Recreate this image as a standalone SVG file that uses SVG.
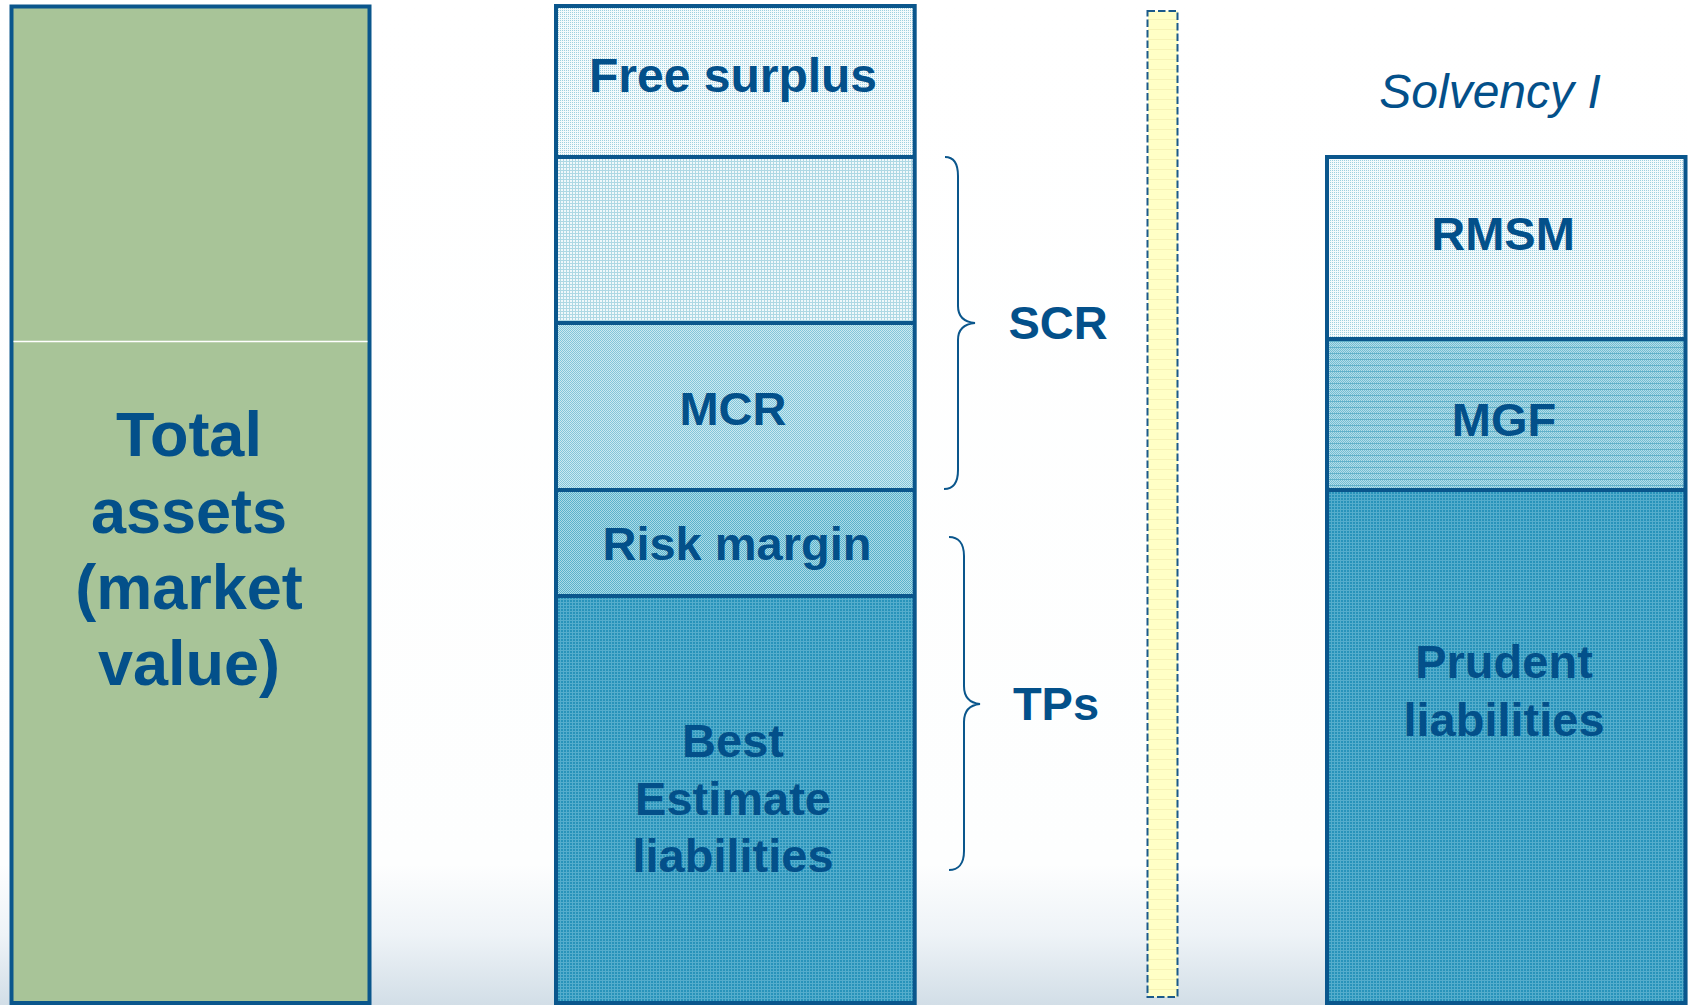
<svg xmlns="http://www.w3.org/2000/svg" width="1688" height="1005" viewBox="0 0 1688 1005">
  <defs>
    <linearGradient id="bg" x1="0" y1="0" x2="0" y2="1005" gradientUnits="userSpaceOnUse">
      <stop offset="0" stop-color="#ffffff"/>
      <stop offset="0.86" stop-color="#fdfefe"/>
      <stop offset="0.93" stop-color="#eef3f7"/>
      <stop offset="1" stop-color="#d2dee7"/>
    </linearGradient>
    <!-- fine dot texture: free surplus / RMSM -->
    <pattern id="pFree" width="2" height="2" patternUnits="userSpaceOnUse">
      <rect width="2" height="2" fill="#f4fafc"/>
      <rect x="0" y="0" width="1" height="1" fill="#9fd0de"/>
    </pattern>
    <!-- light grid: upper SCR band -->
    <pattern id="pGrid" width="3" height="3" patternUnits="userSpaceOnUse">
      <rect width="3" height="3" fill="#f0f8fb"/>
      <rect x="0" y="2" width="3" height="1" fill="#aed8e4"/>
      <rect x="2" y="0" width="1" height="3" fill="#aed8e4"/>
    </pattern>
    <!-- checker: MCR -->
    <pattern id="pMcr" width="2" height="2" patternUnits="userSpaceOnUse">
      <rect width="2" height="2" fill="#cbe9f1"/>
      <rect x="0" y="0" width="1" height="1" fill="#82c5d9"/>
      <rect x="1" y="1" width="1" height="1" fill="#82c5d9"/>
    </pattern>
    <!-- checker: risk margin -->
    <pattern id="pRisk" width="2" height="2" patternUnits="userSpaceOnUse">
      <rect width="2" height="2" fill="#acdae7"/>
      <rect x="0" y="0" width="1" height="1" fill="#5ab2cb"/>
      <rect x="1" y="1" width="1" height="1" fill="#5ab2cb"/>
    </pattern>
    <!-- dark grid: liabilities -->
    <pattern id="pLiab" width="3" height="3" patternUnits="userSpaceOnUse">
      <rect width="3" height="3" fill="#2893ba"/>
      <rect x="0" y="2" width="3" height="1" fill="#55adcc"/>
      <rect x="2" y="0" width="1" height="3" fill="#55adcc"/>
    </pattern>
    <!-- checker with rules: MGF -->
    <pattern id="pMgf" width="4" height="6" patternUnits="userSpaceOnUse">
      <rect width="4" height="6" fill="#b4dde9"/>
      <rect x="0" y="0" width="1" height="1" fill="#74bdd2"/>
      <rect x="2" y="0" width="1" height="1" fill="#74bdd2"/>
      <rect x="1" y="1" width="1" height="1" fill="#74bdd2"/>
      <rect x="3" y="1" width="1" height="1" fill="#74bdd2"/>
      <rect x="0" y="2" width="1" height="1" fill="#74bdd2"/>
      <rect x="2" y="2" width="1" height="1" fill="#74bdd2"/>
      <rect x="1" y="3" width="1" height="1" fill="#74bdd2"/>
      <rect x="3" y="3" width="1" height="1" fill="#74bdd2"/>
      <rect x="0" y="4" width="1" height="1" fill="#74bdd2"/>
      <rect x="2" y="4" width="1" height="1" fill="#74bdd2"/>
      <rect x="0" y="5" width="4" height="1" fill="#62b1c9"/>
    </pattern>
    <!-- pale yellow ruled strip -->
    <pattern id="pYellow" width="8" height="10" patternUnits="userSpaceOnUse">
      <rect width="8" height="10" fill="#ffffc6"/>
      <rect x="0" y="9" width="8" height="1" fill="#f6f3b4"/>
    </pattern>
  </defs>
  <style>
    .box { stroke: #0a568c; stroke-width: 4; }
    .div { stroke: #0a568c; stroke-width: 4; fill: none; }
    .lbl { font-family: "Liberation Sans", Arial, Helvetica, sans-serif; font-weight: bold; fill: #03508a; text-anchor: middle; }
    .brace { fill: none; stroke: #0a568c; stroke-width: 2; }
    .tex { shape-rendering: crispEdges; }
  </style>

  <rect width="1688" height="1005" fill="url(#bg)"/>

  <!-- assets column -->
  <g id="total-assets">
    <rect class="box" x="11.5" y="6.5" width="358" height="996.5" fill="#a8c498"/>
    <line x1="13.5" y1="341.5" x2="367.5" y2="341.5" stroke="#ffffff" stroke-width="1.5"/>
    <text class="lbl" font-size="63" x="189" y="456">Total</text>
    <text class="lbl" font-size="63" x="189" y="533">assets</text>
    <text class="lbl" font-size="63" x="189" y="609">(market</text>
    <text class="lbl" font-size="63" x="189" y="685">value)</text>
  </g>

  <!-- Solvency II balance sheet column -->
  <g id="free-surplus">
    <rect class="tex" x="556" y="6" width="359" height="151" fill="url(#pFree)"/>
    <text class="lbl" font-size="48" x="733" y="92">Free surplus</text>
  </g>
  <g id="scr-upper">
    <rect class="tex" x="556" y="157" width="359" height="166" fill="url(#pGrid)"/>
  </g>
  <g id="mcr">
    <rect class="tex" x="556" y="323" width="359" height="167" fill="url(#pMcr)"/>
    <text class="lbl" font-size="47" x="733" y="425">MCR</text>
  </g>
  <g id="risk-margin">
    <rect class="tex" x="556" y="490" width="359" height="106" fill="url(#pRisk)"/>
    <text class="lbl" font-size="47" x="737" y="560">Risk margin</text>
  </g>
  <g id="best-estimate">
    <rect class="tex" x="556" y="596" width="359" height="407" fill="url(#pLiab)"/>
    <text class="lbl" font-size="47" x="733" y="757">Best</text>
    <text class="lbl" font-size="47" x="733" y="815">Estimate</text>
    <text class="lbl" font-size="47" x="733" y="872">liabilities</text>
  </g>
  <g id="sii-frame">
    <rect class="box" x="556" y="6" width="358.7" height="997" fill="none"/>
    <line class="div" x1="556" y1="157" x2="914.7" y2="157"/>
    <line class="div" x1="556" y1="323" x2="914.7" y2="323"/>
    <line class="div" x1="556" y1="490" x2="914.7" y2="490"/>
    <line class="div" x1="556" y1="596" x2="914.7" y2="596"/>
  </g>

  <!-- braces and their labels -->
  <g id="connectors">
    <path class="brace" d="M945,157 C953,157 958,163 958,176 L958,306 C958,317 964,322 975,323 C964,324 958,329 958,340 L958,470 C958,483 953,489 944,489"/>
    <path class="brace" d="M949,537 C958,537 964,543 964,556 L964,686 C964,697 970,703 980,704 C970,705 964,711 964,722 L964,851 C964,864 958,870 949,870"/>
  </g>
  <g id="scr-label">
    <text class="lbl" font-size="47" x="1058" y="339">SCR</text>
  </g>
  <g id="tps-label">
    <text class="lbl" font-size="47" x="1056" y="720">TPs</text>
  </g>

  <!-- dashed separator strip -->
  <g id="separator">
    <rect class="tex" x="1147.5" y="11" width="30" height="986" fill="url(#pYellow)"/>
    <rect x="1147.5" y="11" width="30" height="986" fill="none" stroke="#1b5a8a" stroke-width="2" stroke-dasharray="7.5 3"/>
  </g>

  <!-- Solvency I column -->
  <g id="solvency-i-title">
    <text x="1490" y="108" font-family="'Liberation Sans', Arial, Helvetica, sans-serif" font-style="italic" font-size="48" fill="#03508a" text-anchor="middle">Solvency I</text>
  </g>
  <g id="rmsm">
    <rect class="tex" x="1327" y="157" width="358.5" height="182" fill="url(#pFree)"/>
    <text class="lbl" font-size="47" x="1503" y="250">RMSM</text>
  </g>
  <g id="mgf">
    <rect class="tex" x="1327" y="339" width="358.5" height="151" fill="url(#pMgf)"/>
    <text class="lbl" font-size="47" x="1504" y="436">MGF</text>
  </g>
  <g id="prudent-liabilities">
    <rect class="tex" x="1327" y="490" width="358.5" height="513" fill="url(#pLiab)"/>
    <text class="lbl" font-size="47" x="1504" y="678">Prudent</text>
    <text class="lbl" font-size="47" x="1504" y="736">liabilities</text>
  </g>
  <g id="si-frame">
    <rect class="box" x="1327" y="157" width="358.5" height="846" fill="none"/>
    <line class="div" x1="1327" y1="339" x2="1685.5" y2="339"/>
    <line class="div" x1="1327" y1="490" x2="1685.5" y2="490"/>
  </g>
</svg>
